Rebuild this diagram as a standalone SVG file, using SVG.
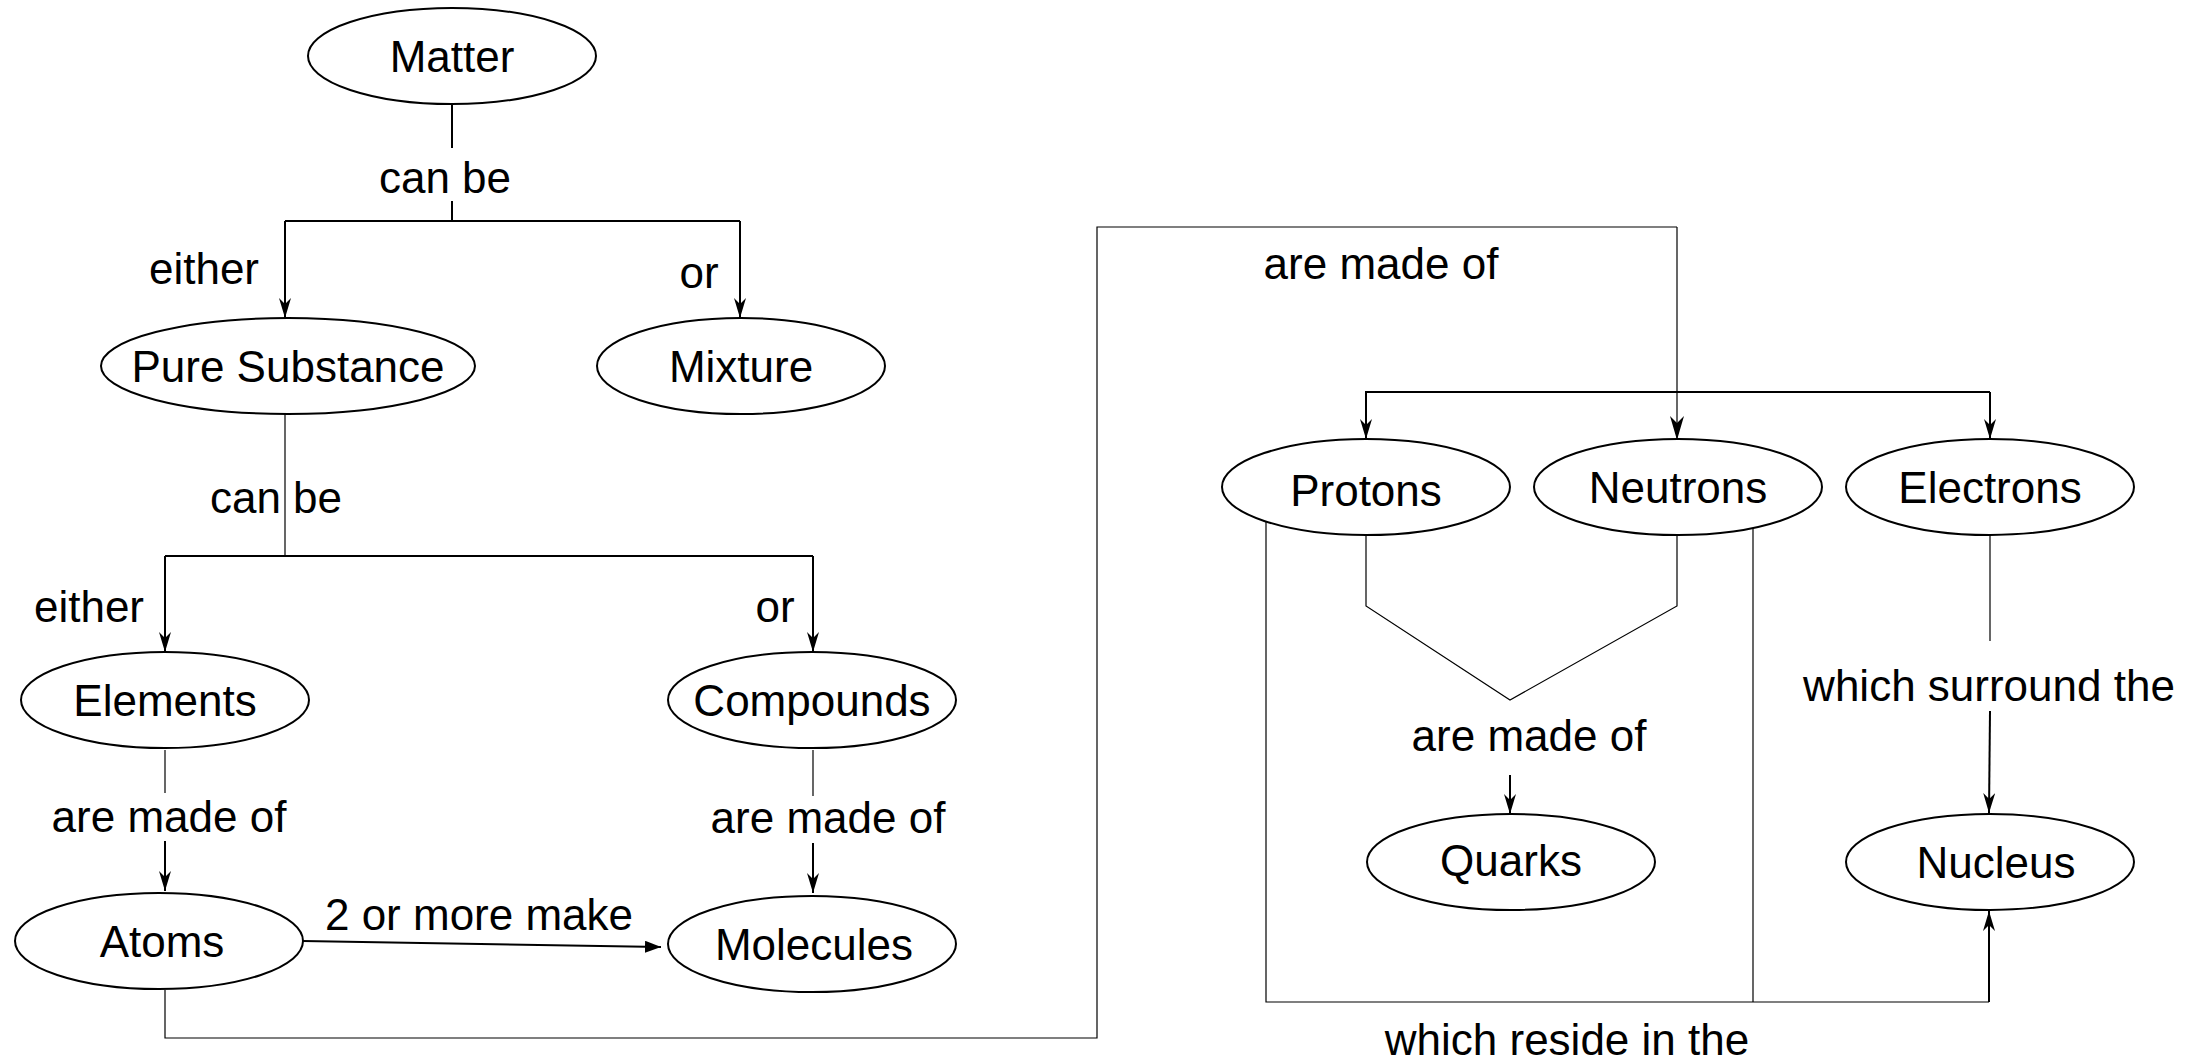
<svg xmlns="http://www.w3.org/2000/svg" width="2209" height="1064" viewBox="0 0 2209 1064">
<defs>
<style>
.n ellipse{fill:#fff;stroke:#000;stroke-width:2}
.t{font-family:"Liberation Sans",Arial,sans-serif;font-size:44px;fill:#000;text-anchor:middle;dominant-baseline:central}
.c{fill:none;stroke:#000;stroke-width:2}
.thin{fill:none;stroke:#000;stroke-width:1.2}
</style>
<marker id="a" viewBox="0 0 20 12" refX="20" refY="6" markerWidth="20" markerHeight="12" markerUnits="userSpaceOnUse" orient="auto"><path d="M0,0 L20,6 L0,12 L6,6 z" fill="#000"/></marker>
<marker id="b" viewBox="0 0 24 14" refX="24" refY="7" markerWidth="24" markerHeight="14" markerUnits="userSpaceOnUse" orient="auto"><path d="M0,0 L24,7 L0,14 L7,7 z" fill="#000"/></marker>
<marker id="f" viewBox="0 0 16 12" refX="16" refY="6" markerWidth="16" markerHeight="12" markerUnits="userSpaceOnUse" orient="auto"><path d="M0,0 L16,6 L0,12 z" fill="#000"/></marker>
</defs>
<rect width="2209" height="1064" fill="#fff"/>
<g id="connectors">
<path class="c" d="M452,104 V148 M452,201 V221 M285,221 H740"/>
<path class="c" d="M285,221 V318" marker-end="url(#a)"/>
<path class="c" d="M740,221 V318" marker-end="url(#a)"/>
<path class="thin" d="M285,414 V556"/>
<path class="c" d="M165,556 H813"/>
<path class="c" d="M165,556 V652" marker-end="url(#a)"/>
<path class="c" d="M813,556 V652" marker-end="url(#a)"/>
<path class="thin" d="M165,750 V793"/>
<path class="c" d="M165,841 V891" marker-end="url(#a)"/>
<path class="thin" d="M813,750 V796"/>
<path class="c" d="M813,843 V893" marker-end="url(#a)"/>
<path class="c" d="M303,941 L661,947" marker-end="url(#f)"/>
<path class="thin" d="M165,990 V1038 H1097 V227 H1677"/>
<path class="thin" d="M1677,227 V440" marker-end="url(#b)"/>
<path class="c" d="M1365,392 H1990"/>
<path class="c" d="M1366,392 V439" marker-end="url(#a)"/>
<path class="c" d="M1990,392 V439" marker-end="url(#a)"/>
<path class="thin" d="M1366,536 V606 L1510,700 L1677,606 V536"/>
<path class="c" d="M1510,775 V814" marker-end="url(#a)"/>
<path class="thin" d="M1990,536 V641"/>
<path class="c" d="M1990,711 L1989,813" marker-end="url(#a)"/>
<path class="thin" d="M1266,521 V1002 H1989"/>
<path class="thin" d="M1753,528 V1002"/>
<path class="c" d="M1989,1002 V911" marker-end="url(#a)"/>
</g>
<g id="labels">
<text class="t" x="445" y="177">can be</text>
<text class="t" x="204" y="268">either</text>
<text class="t" x="699" y="272">or</text>
<text class="t" x="276" y="497">can be</text>
<text class="t" x="89" y="606">either</text>
<text class="t" x="775" y="606">or</text>
<text class="t" x="169" y="816">are made of</text>
<text class="t" x="828" y="817">are made of</text>
<text class="t" x="479" y="914">2 or more make</text>
<text class="t" x="1381" y="263">are made of</text>
<text class="t" x="1529" y="735">are made of</text>
<text class="t" x="1989" y="685">which surround the</text>
<text class="t" x="1567" y="1039">which reside in the</text>
</g>
<g id="matter" class="n"><ellipse cx="452" cy="56" rx="144" ry="48"/><text class="t" x="452" y="56">Matter</text></g>
<g id="pure" class="n"><ellipse cx="288" cy="366" rx="187" ry="48"/><text class="t" x="288" y="366">Pure Substance</text></g>
<g id="mixture" class="n"><ellipse cx="741" cy="366" rx="144" ry="48"/><text class="t" x="741" y="366">Mixture</text></g>
<g id="elements" class="n"><ellipse cx="165" cy="700" rx="144" ry="48"/><text class="t" x="165" y="700">Elements</text></g>
<g id="compounds" class="n"><ellipse cx="812" cy="700" rx="144" ry="48"/><text class="t" x="812" y="700">Compounds</text></g>
<g id="atoms" class="n"><ellipse cx="159" cy="941" rx="144" ry="48"/><text class="t" x="162" y="941">Atoms</text></g>
<g id="molecules" class="n"><ellipse cx="812" cy="944" rx="144" ry="48"/><text class="t" x="814" y="944">Molecules</text></g>
<g id="protons" class="n"><ellipse cx="1366" cy="487" rx="144" ry="48"/><text class="t" x="1366" y="490">Protons</text></g>
<g id="neutrons" class="n"><ellipse cx="1678" cy="487" rx="144" ry="48"/><text class="t" x="1678" y="487">Neutrons</text></g>
<g id="electrons" class="n"><ellipse cx="1990" cy="487" rx="144" ry="48"/><text class="t" x="1990" y="487">Electrons</text></g>
<g id="quarks" class="n"><ellipse cx="1511" cy="862" rx="144" ry="48"/><text class="t" x="1511" y="860">Quarks</text></g>
<g id="nucleus" class="n"><ellipse cx="1990" cy="862" rx="144" ry="48"/><text class="t" x="1996" y="862">Nucleus</text></g>
</svg>
